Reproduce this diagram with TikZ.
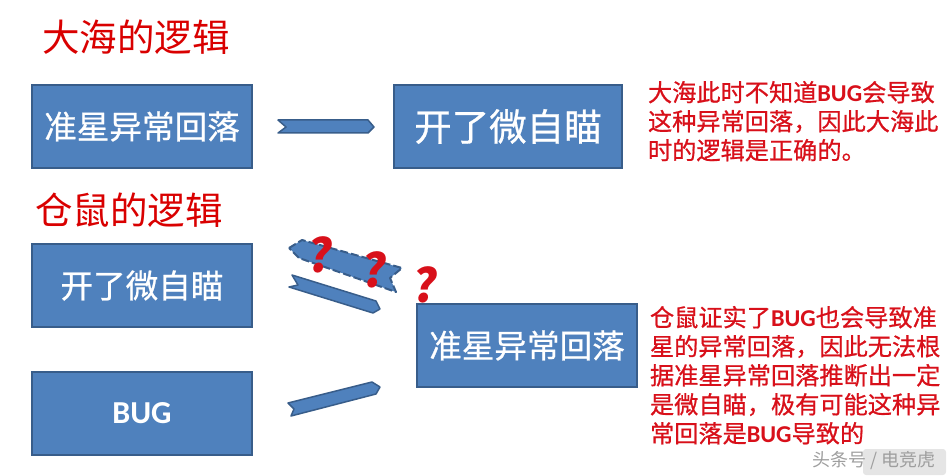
\documentclass[tikz,border=0pt]{standalone}
\usepackage{fontspec}
\setmainfont{Noto Sans CJK SC}
\setsansfont{Noto Sans CJK SC}
\newfontfamily\heavycjk[FakeBold=0.7]{Noto Sans CJK SC}
\newfontfamily\latinfont{Carlito}
\usetikzlibrary{positioning}
\definecolor{boxblue}{HTML}{4F81BD}
\definecolor{boxline}{HTML}{385D8A}
\definecolor{notered}{HTML}{D8101A}
\lineskiplimit=-20pt

\begin{document}
\begin{tikzpicture}[
  x=1pt, y=-1pt,
  every node/.style={inner sep=0pt, outer sep=0pt},
  blockbox/.style={draw=boxline, line width=2pt, fill=boxblue, text=white, minimum height=83pt, minimum width=220pt, font=\fontsize{32.6}{36}\selectfont\heavycjk},
  titletext/.style={text=red!85!black, font=\fontsize{37.5}{42}\selectfont},
  notetext/.style={text=notered, align=left, anchor=north west, font=\fontsize{24.2}{29}\selectfont\heavycjk},
  chevron/.style={draw=boxline, line width=1.5pt, fill=boxblue, line join=round},
  doubtmark/.style={text=notered, font=\fontsize{46}{46}\selectfont\bfseries, xslant=0.12}
]
  \useasboundingbox (0,0) rectangle (948,476);

  %--- top row
  \node[titletext] (titleA) at (136,37) {大海的逻辑};
  \node[blockbox] (aimdrop) at (142,126.5) {准星异常回落};
  \node[blockbox, minimum width=228pt, font=\fontsize{37.5}{42}\selectfont\heavycjk, right=142pt of aimdrop] (aimbot) {开了微自瞄};
  \node[notetext, right=26pt of aimbot.north east, anchor=north west, yshift=4pt] (noteA) {大海此时不知道{\latinfont\bfseries BUG}会导致\\这种异常回落，因此大海此\\时的逻辑是正确的。};

  %--- lower block
  \node[titletext] (titleB) at (129,210) {仓鼠的逻辑};
  \node[blockbox] (aimbotB) at (142,285.5) {开了微自瞄};
  \node[blockbox, below=45pt of aimbotB, font=\fontsize{32}{36}\selectfont\latinfont\bfseries, text depth=-2pt] (bug) {BUG};
  \node[blockbox] (aimdropB) at (527,345.5) {准星异常回落};
  \node[notetext, right=13pt of aimdropB.north east, anchor=north west, yshift=-2pt] (noteB) {仓鼠证实了{\latinfont\bfseries BUG}也会导致准\\星的异常回落，因此无法根\\据准星异常回落推断出一定\\是微自瞄，极有可能这种异\\常回落是{\latinfont\bfseries BUG}导致的};

  %--- chevrons
  \draw[chevron] (278,120) -- (368,120) -- (374,127) -- (368,133) -- (278,133) -- (286,127) -- cycle;
  \draw[chevron, line width=2pt, dash pattern=on 8pt off 3pt] (289,248) -- (302,240) -- (402,268) -- (390,278) -- (396,292) -- (299,258) -- cycle;
  \draw[chevron] (292,275) -- (376,301) -- (380,309) -- (373,313) -- (289,287) -- (298,285) -- cycle;
  \draw[chevron] (288,403) -- (372,382) -- (380,387) -- (376,394) -- (291,416) -- (294,409) -- cycle;

  %--- question marks
  \node[doubtmark] (doubtA) at (321,255) {?};
  \node[doubtmark] (doubtB) at (375,270) {?};
  \node[doubtmark] (doubtC) at (426,285) {?};

  %--- watermark
  \fill[black!10, rounded corners=3pt] (863,449) rectangle (946,475);
  \node[text=black!38, font=\fontsize{18}{20}\selectfont] (mark) at (874,461) {头条号 / 电竞虎};
\end{tikzpicture}
\end{document}
